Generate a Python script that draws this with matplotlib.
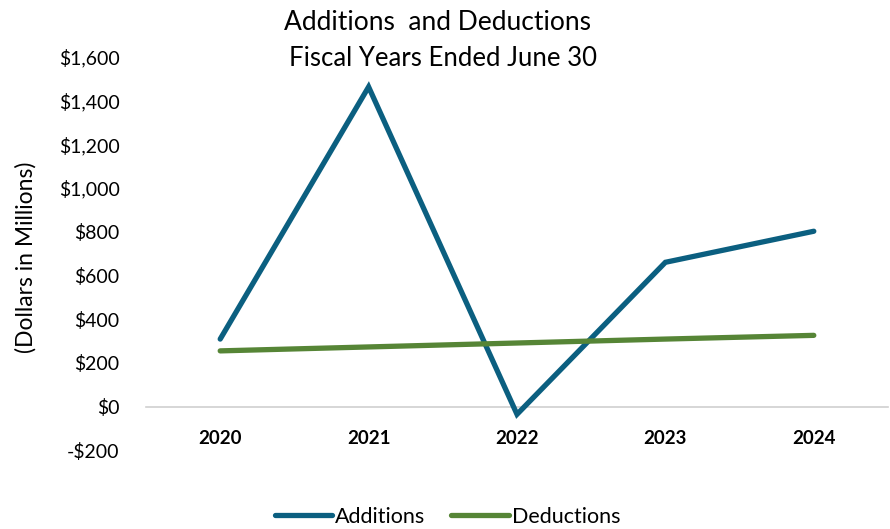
import matplotlib
matplotlib.use("Agg")
import matplotlib.pyplot as plt
from matplotlib.ticker import FuncFormatter

years = ["2020", "2021", "2022", "2023", "2024"]
additions = [309, 1462, -35, 660, 802]
deductions = [255, 273, 291, 309, 326]
y_ticks = [-200, 0, 200, 400, 600, 800, 1000, 1200, 1400, 1600]

plt.rcParams['font.family'] = ['Lato', 'DejaVu Sans']

fig = plt.figure(figsize=(8.9, 5.29), dpi=100)
ax = fig.add_axes([146 / 890, 1 - 450.4 / 529, 742 / 890, (450.4 - 56.7) / 529])

x = list(range(len(years)))
ax.plot(x, additions, color='#0B5F80', lw=3.8, solid_capstyle='round',
        solid_joinstyle='miter', label='Additions')
ax.plot(x, deductions, color='#568536', lw=3.8, solid_capstyle='round',
        label='Deductions')

# x axis sits on zero, like the original
for s in ['top', 'right', 'left']:
    ax.spines[s].set_visible(False)
ax.spines['bottom'].set_position(('data', 0))
ax.spines['bottom'].set_color('#D0D0D0')
ax.spines['bottom'].set_linewidth(1.2)
ax.spines['bottom'].set_zorder(0)

ax.set_xlim(-0.5, len(years) - 0.5)
ax.set_ylim(-200, 1600)
ax.set_yticks(y_ticks)


def money(v, pos):
    if v < 0:
        return "-${:,.0f}".format(-v)
    return "${:,.0f}".format(v)


ax.yaxis.set_major_formatter(FuncFormatter(money))
ax.set_xticks(x)
ax.set_xticklabels(years, fontsize=13.5, fontweight='bold')
ax.tick_params(axis='x', length=0, pad=17)
ax.tick_params(axis='y', length=0, pad=19, labelsize=14)

ax.set_ylabel("(Dollars in Millions)", fontsize=16.5)
ax.yaxis.set_label_coords(-0.147, 0.49)

fig.text(0.492, 1 - 29.5 / 529, "Additions  and Deductions", ha='center', va='baseline', fontsize=19)
fig.text(0.498, 1 - 66.5 / 529, "Fiscal Years Ended June 30", ha='center', va='baseline', fontsize=18.5)

fig.legend(loc='center', bbox_to_anchor=(0.503, 1 - 517 / 529), ncol=2, frameon=False,
           fontsize=15.5, handlelength=2.65, handletextpad=0.15, columnspacing=1.2)

fig.savefig("out.png", dpi=100)
